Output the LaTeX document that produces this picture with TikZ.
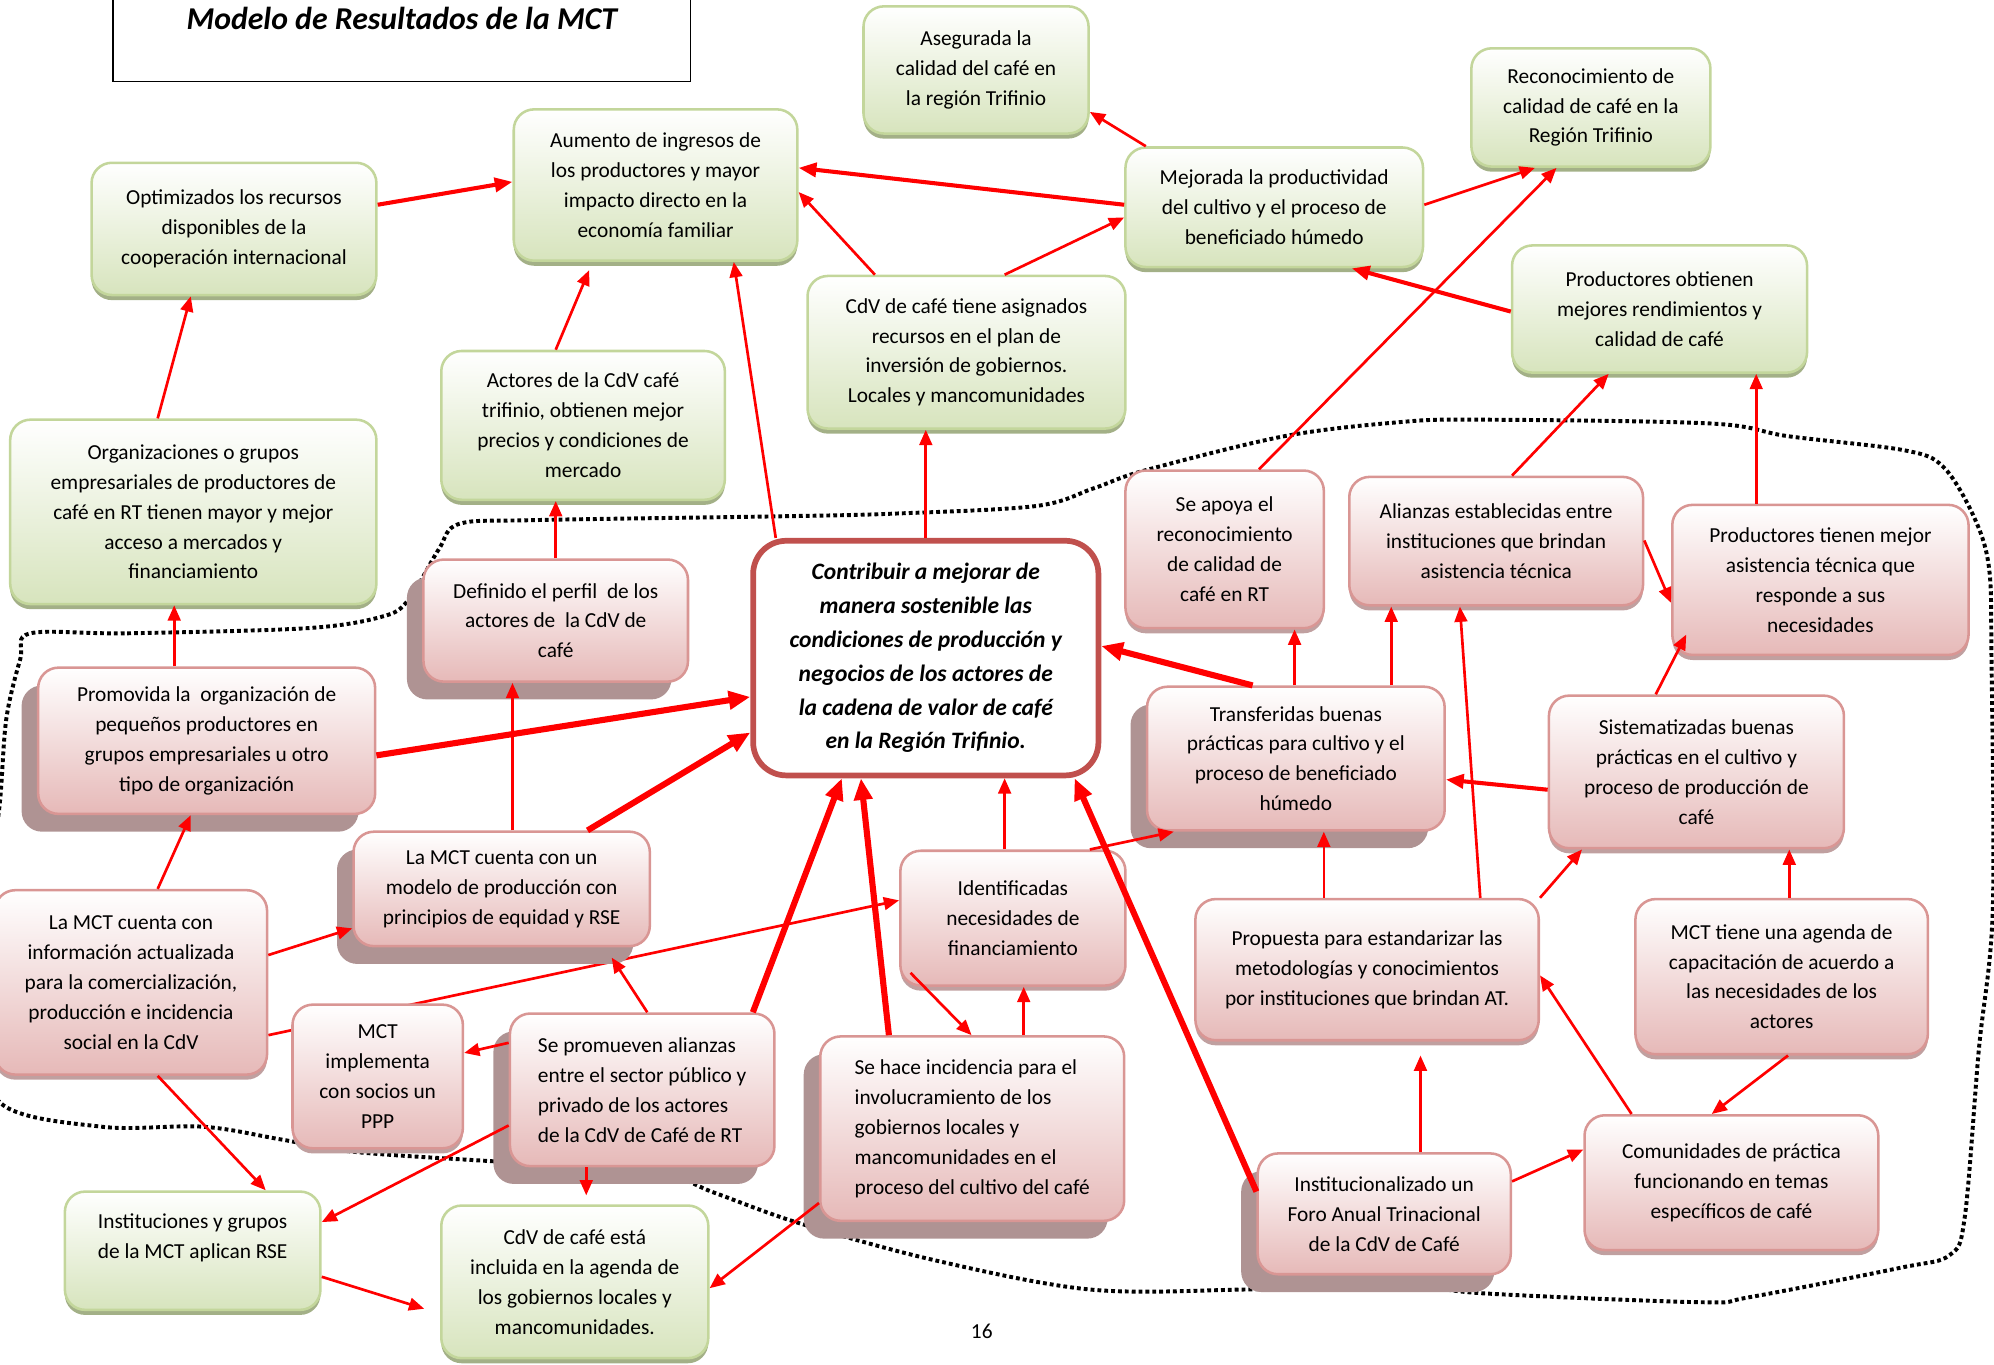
\documentclass[tikz,border=0pt]{standalone}
\usepackage{fontspec}
\setmainfont{Carlito}
\usepackage{xcolor}
\usepackage{tikz}
\usetikzlibrary{positioning, arrows.meta, shadows, calc}
\pgfdeclarelayer{background}
\pgfsetlayers{background,main}
\definecolor{greenline}{RGB}{195,214,155}
\definecolor{greenfill}{RGB}{215,228,189}
\definecolor{greenshadow}{RGB}{163,176,135}
\definecolor{pinkline}{RGB}{217,150,148}
\definecolor{pinkfill}{RGB}{230,185,184}
\definecolor{pinkshadow}{RGB}{192,160,160}
\definecolor{pinkdeep}{RGB}{175,147,147}
\definecolor{goalline}{RGB}{192,80,77}
\newcommand{\boxfont}{\fontsize{16.8}{23.5}\selectfont}
\newcommand{\goalfont}{\fontsize{18.5}{26.6}\selectfont\bfseries\itshape}
\newcommand{\titlefont}{\fontsize{25}{30}\selectfont\bfseries\itshape}

\begin{document}
\begin{tikzpicture}[
    x=1pt, y=-1pt,
    >={Triangle[length=12pt, width=10pt]},
    dims/.style 2 args={minimum width=#1pt, minimum height=#2pt},
    card/.style={draw=#1line, line width=2pt, rounded corners=16pt, top color=white, bottom color=#1fill, align=center, font=\boxfont, inner sep=2pt},
    outcome/.style={card=green, drop shadow={shadow xshift=0pt, shadow yshift=-4pt, fill=greenshadow, opacity=1}},
    output/.style={card=pink, drop shadow={shadow xshift=0pt, shadow yshift=-4pt, fill=pinkshadow, opacity=1}},
    activity/.style={card=pink, drop shadow={shadow xshift=-13pt, shadow yshift=-14pt, fill=pinkdeep, opacity=1}},
    goal/.style={draw=goalline, line width=4.5pt, rounded corners=26pt, fill=white, align=center, font=\goalfont, inner sep=2pt},
    titlebox/.style={draw, line width=1.2pt, font=\titlefont, text height=17.5pt, text depth=30pt},
    link/.style={->, draw=red, line width=2.1pt},
    midlink/.style={-{Triangle[length=14pt, width=11pt]}, draw=red, line width=3.2pt},
    boldlink/.style={-{Triangle[length=17pt, width=14pt]}, draw=red, line width=4.8pt},
    boundary/.style={line width=3.1pt, dash pattern=on 3pt off 2.4pt}
]
\useasboundingbox (0,0) rectangle (1568,1073);

% Title
\node[titlebox, dims={454}{69}] (Title) at (316,29.5) {Modelo de Resultados de la MCT};

% Goal
\node[goal, dims={271.5}{184.5}] (Meta) at (728,517.5) {Contribuir a mejorar de\\manera sostenible las\\condiciones de producción y\\negocios de los actores de\\la cadena de valor de café\\en la Región Trifinio.};

% Outcomes
\node[outcome, dims={177}{100}] (Asegurada) at (767.5,55) {Asegurada la\\calidad del café en\\la región Trifinio};
\node[outcome, dims={188}{93}] (Reconocimiento) at (1251,84.5) {Reconocimiento de\\calidad de café en la\\Región Trifinio};
\node[outcome, dims={223}{119}] (Ingresos) at (515.5,145.5) {Aumento de ingresos de\\los productores y mayor\\impacto directo en la\\economía familiar};
\node[outcome, dims={234}{94}] (Productividad) at (1002,163) {Mejorada la productividad\\del cultivo y el proceso de\\beneficiado húmedo};
\node[outcome, dims={224}{104}] (Optimizados) at (184,180) {Optimizados los recursos\\disponibles de la\\cooperación internacional};
\node[outcome, dims={232}{100}] (Rendimientos) at (1305,243) {Productores obtienen\\mejores rendimientos y\\calidad de café};
\node[outcome, dims={250}{120}] (Recursos) at (760,277) {CdV de café tiene asignados\\recursos en el plan de\\inversión de gobiernos.\\Locales y mancomunidades};
\node[outcome, dims={223}{117}] (Precios) at (458.5,334.5) {Actores de la CdV café\\trifinio, obtienen mejor\\precios y condiciones de\\mercado};
\node[outcome, dims={288}{145}] (Organizaciones) at (152,402.5) {Organizaciones o grupos\\empresariales de productores de\\café en RT tienen mayor y mejor\\acceso a mercados y\\financiamiento};
\node[outcome, dims={201}{93}] (RSE) at (151.5,983.5) {Instituciones y grupos\\de la MCT aplican RSE\\\mbox{}};
\node[outcome, dims={210}{120}] (Agenda) at (452,1008) {CdV de café está\\incluida en la agenda de\\los gobiernos locales y\\mancomunidades.};

% Outputs
\node[output, dims={156}{124}] (Apoyo) at (963,432) {Se apoya el\\reconocimiento\\de calidad de\\café en RT};
\node[output, dims={231}{101}] (Alianzas) at (1176.5,425.5) {Alianzas establecidas entre\\instituciones que brindan\\asistencia técnica};
\node[output, dims={233}{118}] (Asistencia) at (1431.5,456) {Productores tienen mejor\\asistencia técnica que\\responde a sus\\necesidades};
\node[activity, dims={208}{96}] (Perfil) at (437,488) {Definido el perfil~ de los\\actores de~ la CdV de\\café};
\node[activity, dims={265}{115}] (Promovida) at (162.5,582.5) {Promovida la~ organización de\\pequeños productores en\\grupos empresariales u otro\\tipo de organización};
\node[activity, dims={234}{113}] (Transferidas) at (1019,596.5) {Transferidas buenas\\prácticas para cultivo y el\\proceso de beneficiado\\húmedo};
\node[output, dims={232}{120}] (Sistematizadas) at (1334,607) {Sistematizadas buenas\\prácticas en el cultivo y\\proceso de producción de\\café};
\node[activity, dims={233}{90}] (Modelo) at (394.5,699) {La MCT cuenta con un\\modelo de producción con\\principios de equidad y RSE};
\node[output, dims={177}{106}] (Financiamiento) at (796.5,722) {Identificadas\\necesidades de\\financiamiento};
\node[output, dims={214}{145}] (Informacion) at (103,772.5) {La MCT cuenta con\\información actualizada\\para la comercialización,\\producción e incidencia\\social en la CdV};
\node[output, dims={270}{111}] (Propuesta) at (1075,762.5) {Propuesta para estandarizar las\\metodologías y conocimientos\\por instituciones que brindan AT.};
\node[output, dims={230}{122}] (Capacitacion) at (1401,768) {MCT tiene una agenda de\\capacitación de acuerdo a\\las necesidades de los\\actores};
\node[output, dims={134}{113}] (PPP) at (297,846.5) {MCT\\implementa\\con socios un\\PPP};
\node[activity, dims={208}{120}, align=left] (Promueven) at (505,857) {Se promueven alianzas\\entre el sector público y\\privado de los actores\\de la CdV de Café de RT};
\node[activity, dims={239}{145}, align=left] (Incidencia) at (764.5,887.5) {Se hace incidencia para el\\involucramiento de los\\gobiernos locales y\\mancomunidades en el\\proceso del cultivo del café};
\node[activity, dims={199}{95}] (Foro) at (1088.5,954.5) {Institucionalizado un\\Foro Anual Trinacional\\de la CdV de Café};
\node[output, dims={231}{106}] (Comunidades) at (1361.5,930) {Comunidades de práctica\\funcionando en temas\\específicos de café};

\node[font=\boxfont] (Pagina) at (772,1047) {16};

% Boundary of the MCT
\begin{pgfonlayer}{background}
\draw[boundary] plot[smooth cycle, tension=0.55] coordinates {
    (24,498) (100,498) (241,494) (300,485) (321,472) (345,432) (361,412)
    (420,409) (613,406) (700,404) (814,398) (860,384) (900,370) (1010,343)
    (1100,332) (1162,330) (1345,333) (1406,343) (1497,354) (1528,367)
    (1552,406) (1564,446) (1566,516) (1567,716) (1556,826) (1545,957)
    (1533,987) (1494,997) (1376,1020) (1337,1024) (1166,1017) (1101,1010)
    (979,1014) (857,1014) (735,991) (629,962) (562,938) (514,921) (401,914)
    (281,906) (221,896) (160,886) (80,886) (0,867) (-10,800) (-8,700)
    (0,630) (5,565) (16,518)};
\draw[link] (Informacion.east |- 0,814) -- (Financiamiento.west |- 0,708);
\end{pgfonlayer}

% Connections
\draw[midlink] (Optimizados.east |- 0,161) -- (Ingresos.west |- 0,143);
\draw[link] (Organizaciones.north -| 124,0) -- (Optimizados.south -| 150,0);
\draw[link, shorten >=7pt] (Precios.north -| 437,0) -- (Ingresos.south -| 466,0);
\draw[link] (Meta.north -| 610,0) -- (Ingresos.south -| 577,0);
\draw[midlink] (Productividad.west |- 0,161) -- (Ingresos.east |- 0,132);
\draw[link] (Recursos.north -| 688,0) -- (Ingresos.east |- 0,151);
\draw[link] (Recursos.north -| 790,0) -- (Productividad.west |- 0,171);
\draw[link] (Productividad.north -| 901,0) -- (Asegurada.east |- 0,88);
\draw[link] (Productividad.east |- 0,161) -- (Reconocimiento.south -| 1207,0);
\draw[link] (Apoyo.north -| 990,0) -- (Reconocimiento.south -| 1224,0);
\draw[midlink] (Rendimientos.west |- 0,245) -- (Productividad.south -| 1063,0);
\draw[link] (Alianzas.north -| 1189,0) -- (Rendimientos.south -| 1265,0);
\draw[link] (Asistencia.north -| 1381,0) -- (Rendimientos.south -| 1381,0);
\draw[link] (Perfil.north) -- (Perfil.north |- Precios.south);
\draw[link] (Meta.north) -- (Meta.north |- Recursos.south);
\draw[link] (Promovida.north -| 137,0) -- (Organizaciones.south -| 137,0);
\draw[link] (Modelo.north -| 403,0) -- (Perfil.south -| 403,0);
\draw[link] (Informacion.north -| 124,0) -- (Promovida.south -| 150,0);
\draw[link] (Informacion.east |- 0,751) -- (Modelo.west |- 0,730);
\draw[link] (Informacion.south -| 124,0) -- (RSE.north -| 209,0);
\draw[link] (Transferidas.north -| 1018,0) -- (Apoyo.south -| 1018,0);
\draw[link] (Transferidas.north -| 1094,0) -- (Alianzas.south -| 1094,0);
\draw[link] (Propuesta.north -| 1164,0) -- (Alianzas.south -| 1148,0);
\draw[link] (Alianzas.east |- 0,425) -- (Asistencia.west |- 0,474);
\draw[link] (Sistematizadas.north -| 1302,0) -- ($(Asistencia.south west)+(12,-17)$);
\draw[midlink] (Sistematizadas.west |- 0,621) -- (Transferidas.east |- 0,613);
\draw[link] (Propuesta.north -| 1041,0) -- (Transferidas.south -| 1041,0);
\draw[link] (Propuesta.north east) -- (Sistematizadas.south -| 1244,0);
\draw[link] (Capacitacion.north -| 1407,0) -- (Sistematizadas.south -| 1407,0);
\draw[link] (Financiamiento.north -| 857,0) -- (Transferidas.south -| 923,0);
\draw[link] (Financiamiento.north -| 790,0) -- (Meta.south -| 790,0);
\draw[link] (Incidencia.north -| 805,0) -- (Financiamiento.south -| 805,0);
\draw[link] ($(Financiamiento.south west)+(9,-11)$) -- (Incidencia.north -| 764,0);
\draw[link] (Promueven.north -| 509,0) -- ($(Modelo.south)+(86.5,8)$);
\draw[link] (Promueven.west |- 0,820) -- (PPP.east |- 0,828);
\draw[link] (Promueven.west |- 0,885) -- (RSE.east |- 0,961);
\draw[link, shorten >=7pt] (Promueven.south -| 461,0) -- (Agenda.north -| 461,0);
\draw[link, shorten >=13pt] (RSE.east |- 0,1004) -- (Agenda.west |- 0,1033);
\draw[link] (Incidencia.west |- 0,946) -- (Agenda.east |- 0,1013);
\draw[link, shorten >=11pt] (Foro.north -| 1117,0) -- (Propuesta.south -| 1117,0);
\draw[link] (Foro.east |- 0,929) -- (Comunidades.west |- 0,904);
\draw[link] (Comunidades.north -| 1283,0) -- (Propuesta.east |- 0,767);
\draw[link] (Capacitacion.south -| 1406,0) -- (Comunidades.north -| 1346,0);

% Contributions to the goal
\draw[boldlink] (Promovida.east |- 0,594) -- (Meta.west |- 0,548);
\draw[boldlink] (Modelo.north -| 462,0) -- (Meta.west |- 0,576);
\draw[boldlink] (Transferidas.north -| 985,0) -- (Meta.east |- 0,508);
\draw[boldlink] (Promueven.north -| 592,0) -- (Meta.south -| 662,0);
\draw[boldlink] (Incidencia.north -| 699,0) -- (Meta.south -| 677,0);
\draw[boldlink] (Foro.west |- 0,937) -- (Meta.south -| 845,0);

\end{tikzpicture}
\end{document}
